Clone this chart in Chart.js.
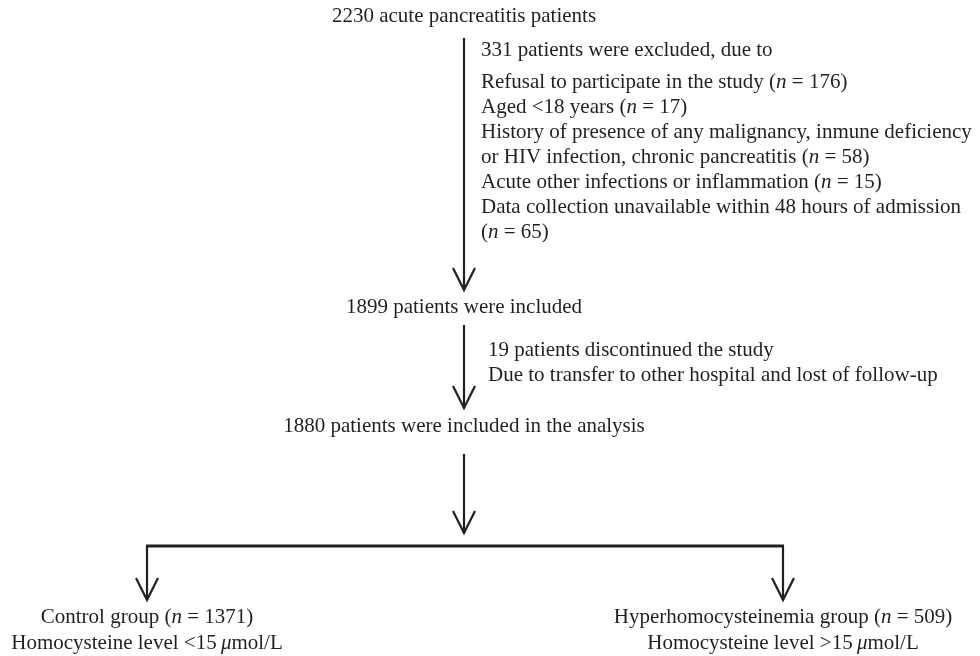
<!DOCTYPE html>
<html>
<head>
<meta charset="utf-8">
<script src="https://cdn.jsdelivr.net/npm/chart.js@4/dist/chart.umd.min.js"></script>
<style>
  html, body { margin: 0; padding: 0; background: #fff; }
  canvas { display: block; }
</style>
</head>
<body>
<canvas id="flow" width="980" height="656"></canvas>
<script>
// flow steps (main column)
const stepText = [
  '2230 acute pancreatitis patients',
  '1899 patients were included',
  '1880 patients were included in the analysis'
];
const stepY = [16, 307, 426];
const flowX = 464;

// exclusion notes, _x_ = italic
const excludedText = [
  '331 patients were excluded, due to',
  'Refusal to participate in the study (_n_ = 176)',
  'Aged <18 years (_n_ = 17)',
  'History of presence of any malignancy, inmune deficiency',
  'or HIV infection, chronic pancreatitis (_n_ = 58)',
  'Acute other infections or inflammation (_n_ = 15)',
  'Data collection unavailable within 48 hours of admission',
  '(_n_ = 65)'
];
const excludedY = [50, 82, 107, 132, 157, 182, 207, 232];
const excludedX = 481;

const discontinuedText = [
  '19 patients discontinued the study',
  'Due to transfer to other hospital and lost of follow-up'
];
const discontinuedY = [350, 375];
const discontinuedX = 488;

// groups at the bottom
const groupText = [
  ['Control group (_n_ = 1371)', 'Homocysteine level <15\u2009_\u03bc_mol/L'],
  ['Hyperhomocysteinemia group (_n_ = 509)', 'Homocysteine level >15\u2009_\u03bc_mol/L']
];
const groupX = [147, 783];
const groupY = [617, 643];

// arrows
const arrowX = [464, 464, 464, 147, 783];
const arrowTop = [38, 325, 454, 546, 546];
const arrowTip = [290, 408, 533, 600, 600];
const branchY = 546;

const INK = '#231f20';
const FONT = '"Liberation Serif", "Times New Roman", serif';
const SIZE = 21;

function lineSet(points, width) {
  return {
    data: points,
    showLine: true,
    borderColor: INK,
    borderWidth: width,
    pointRadius: 0,
    fill: false,
    tension: 0
  };
}

const datasets = [];
arrowX.forEach((x, i) => {
  datasets.push(lineSet([{ x: x, y: arrowTop[i] }, { x: x, y: arrowTip[i] }], 2.2));
  datasets.push(lineSet([
    { x: x - 11, y: arrowTip[i] - 22 },
    { x: x, y: arrowTip[i] },
    { x: x + 11, y: arrowTip[i] - 22 }
  ], 2.2));
});
datasets.push(lineSet([{ x: arrowX[3] - 1, y: branchY }, { x: arrowX[4] + 1, y: branchY }], 3));

function drawRich(ctx, str, x, y, align) {
  const segs = str.split('_');
  const fonts = segs.map((s, i) => (i % 2 ? 'italic ' : '') + SIZE + 'px ' + FONT);
  let total = 0;
  const widths = segs.map((s, i) => {
    ctx.font = fonts[i];
    const w = ctx.measureText(s).width;
    total += w;
    return w;
  });
  let cx = align === 'center' ? x - total / 2 : x;
  segs.forEach((s, i) => {
    ctx.font = fonts[i];
    ctx.fillText(s, cx, y);
    cx += widths[i];
  });
}

const textPlugin = {
  id: 'flowText',
  afterDatasetsDraw(chart) {
    const { ctx, scales: { x, y } } = chart;
    ctx.save();
    ctx.fillStyle = INK;
    ctx.textAlign = 'left';
    ctx.textBaseline = 'middle';

    stepText.forEach((t, i) => {
      drawRich(ctx, t, x.getPixelForValue(flowX), y.getPixelForValue(stepY[i]), 'center');
    });
    excludedText.forEach((t, i) => {
      drawRich(ctx, t, x.getPixelForValue(excludedX), y.getPixelForValue(excludedY[i]), 'left');
    });
    discontinuedText.forEach((t, i) => {
      drawRich(ctx, t, x.getPixelForValue(discontinuedX), y.getPixelForValue(discontinuedY[i]), 'left');
    });
    groupText.forEach((lines, g) => {
      lines.forEach((t, i) => {
        drawRich(ctx, t, x.getPixelForValue(groupX[g]), y.getPixelForValue(groupY[i]), 'center');
      });
    });
    ctx.restore();
  }
};

new Chart(document.getElementById('flow'), {
  type: 'scatter',
  data: { datasets },
  options: {
    responsive: false,
    animation: false,
    layout: { padding: 0 },
    plugins: { legend: { display: false }, tooltip: { enabled: false } },
    scales: {
      x: { type: 'linear', min: 0, max: 980, display: false },
      y: { type: 'linear', min: 0, max: 656, reverse: true, display: false }
    }
  },
  plugins: [textPlugin]
});
</script>
</body>
</html>
